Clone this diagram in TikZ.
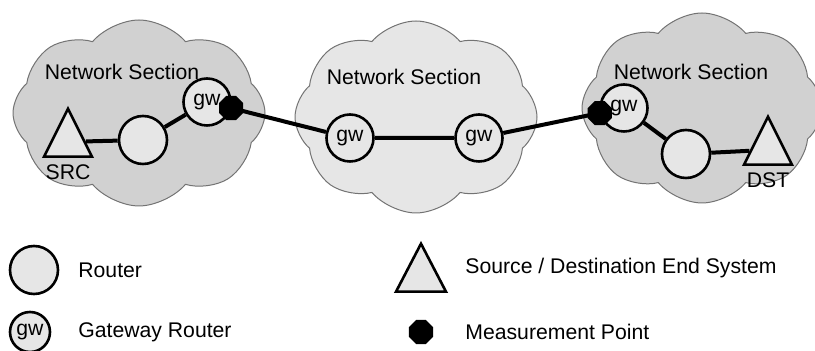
\documentclass[tikz,border=0pt]{standalone}
\usepackage{fontspec}
\setmainfont{Liberation Sans}
\usetikzlibrary{shapes.symbols,shapes.geometric}

\definecolor{darkcloud}{RGB}{209,209,209}
\definecolor{lightcloud}{RGB}{230,230,230}
\definecolor{nodefill}{RGB}{230,230,230}

\tikzset{
  section/.style={cloud, cloud puffs=8, cloud puff arc=100, draw=black!55, line width=0.5pt, inner sep=0pt},
  router/.style={circle, draw, line width=1.3pt, fill=nodefill, inner sep=0pt, minimum size=24pt},
  endsys/.style={isosceles triangle, isosceles triangle stretches, shape border rotate=90, anchor=lower side,
                 draw, line width=1.3pt, fill=nodefill, inner sep=0pt, minimum width=24pt, minimum height=24pt},
  measure/.style={regular polygon, regular polygon sides=8, fill=black, inner sep=0pt, minimum size=13pt},
  keytext/.style={anchor=west, inner sep=0pt},
  link/.style={line width=2pt}
}

\begin{document}
\begin{tikzpicture}[x=0.5pt,y=-0.5pt,font=\fontsize{10.6}{13}\selectfont]
    \useasboundingbox (0,0) rectangle (815,351);
    % network sections
    \node[section, fill=darkcloud, minimum width=126pt, minimum height=93pt] (secA) at (139,113) {};
    \node[section, fill=lightcloud, minimum width=121pt, minimum height=96pt] (secB) at (416,117) {};
    \node[section, fill=darkcloud, minimum width=120pt, minimum height=95pt] (secC) at (702,108) {};
    \node (labA) at (122,72) {Network Section};
    \node (labB) at (404,77) {Network Section};
    \node (labC) at (691,72) {Network Section};
    % routers and end systems
    \node[endsys] (src) at (68,158) {};
    \node (srclab) at (68,172) {SRC};
    \node[router] (r1) at (143,140) {};
    \node[router, minimum size=23.5pt] (gw1) at (207,102) {gw};
    \node[router, minimum size=23.5pt] (gw2) at (350,138) {gw};
    \node[router, minimum size=23.5pt] (gw3) at (479,138) {gw};
    \node[router, minimum size=23.5pt] (gw4) at (624,108) {gw};
    \node[router] (r2) at (686,154) {};
    \node[endsys] (dst) at (768,166) {};
    \node (dstlab) at (768,180) {DST};
    \draw[link] (src) -- (r1) -- (gw1) -- (gw2) -- (gw3) -- (gw4) -- (r2) -- (dst);
    \node[measure] (m1) at (gw1.-14) {};
    \node[measure] (m2) at (gw4.-168) {};
    % legend
    \node[router] (keyr) at (34,270) {};
    \node[keytext] (keyrlab) at (78,270) {Router};
    \node[router, minimum size=20pt] (keygw) at (30,332) {gw};
    \node[keytext] (keygwlab) at (78,332) {Gateway Router};
    \node[endsys, minimum width=25pt] (keyes) at (421,293) {};
    \node[keytext] (keyeslab) at (465,268) {Source / Destination End System};
    \node[measure] (keym) at (421,332) {};
    \node[keytext] (keymlab) at (465,332) {Measurement Point};
\end{tikzpicture}
\end{document}
